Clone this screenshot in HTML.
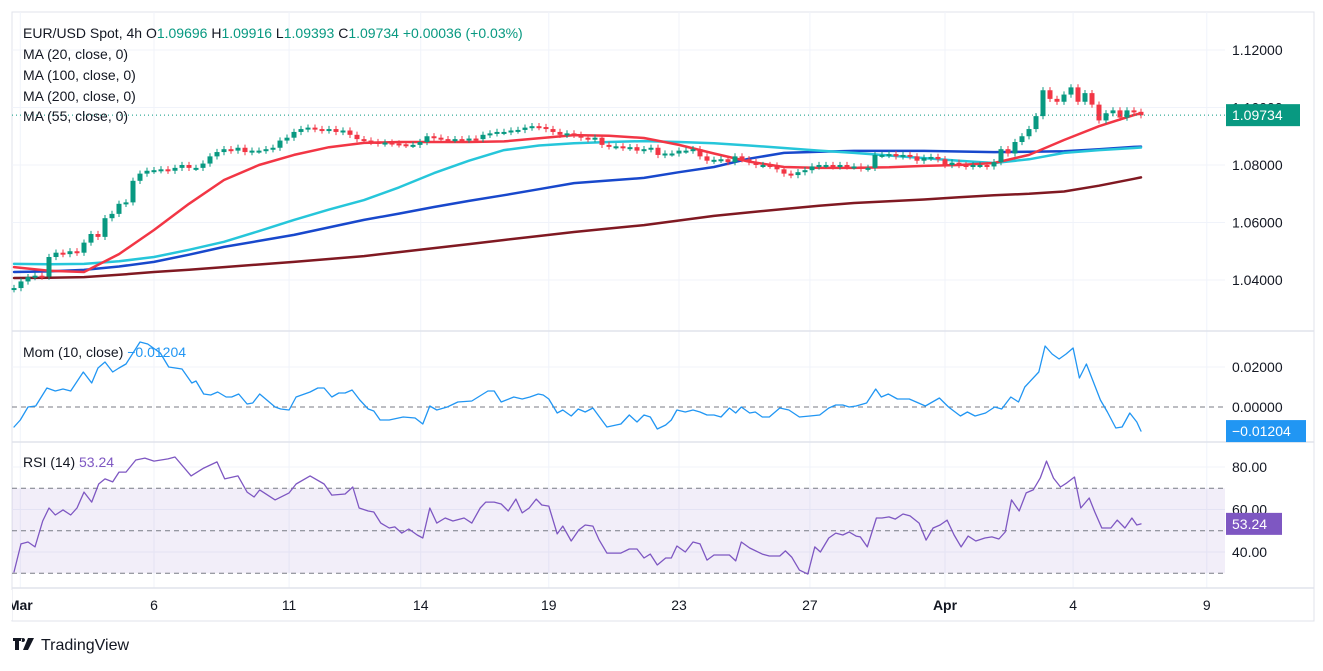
<!DOCTYPE html>
<html><head><meta charset="utf-8">
<style>
html,body{margin:0;padding:0;background:#fff;}
body{width:1323px;height:666px;overflow:hidden;font-family:"Liberation Sans",sans-serif;}
svg text{font-family:"Liberation Sans",sans-serif;}
</style></head>
<body>
<svg id="chart" width="1323" height="666" xmlns="http://www.w3.org/2000/svg"></svg>
<script>
// ---- data ----
const closes = [1.0372,1.0395,1.0410,1.0415,1.0412,1.0480,1.0495,1.0490,1.0500,1.0495,
1.0530,1.0560,1.0550,1.0615,1.0630,1.0665,1.0670,1.0745,1.0770,1.0780,
1.0782,1.0785,1.0780,1.0790,1.0800,1.0790,1.0790,1.0805,1.0830,1.0845,
1.0855,1.0850,1.0860,1.0845,1.0850,1.0850,1.0855,1.0860,1.0885,1.0895,
1.0915,1.0925,1.0930,1.0925,1.0920,1.0925,1.0915,1.0920,1.0905,1.0890,
1.0885,1.0880,1.0875,1.0878,1.0875,1.0872,1.0870,1.0870,1.0880,1.0900,
1.0895,1.0890,1.0888,1.0890,1.0888,1.0892,1.0890,1.0905,1.0910,1.0915,
1.0915,1.0920,1.0922,1.0930,1.0935,1.0932,1.0925,1.0915,1.0905,1.0910,
1.0905,1.0895,1.0890,1.0895,1.0870,1.0865,1.0865,1.0860,1.0862,1.0850,
1.0855,1.0860,1.0835,1.0840,1.0840,1.0850,1.0850,1.0855,1.0830,1.0815,
1.0818,1.0820,1.0810,1.0830,1.0820,1.0810,1.0800,1.0800,1.0798,1.0785,
1.0770,1.0765,1.0775,1.0782,1.0795,1.0800,1.0800,1.0795,1.0800,1.0795,
1.0795,1.0788,1.0790,1.0835,1.0835,1.0838,1.0830,1.0835,1.0830,1.0815,
1.0825,1.0828,1.0820,1.0800,1.0808,1.0800,1.0795,1.0800,1.0800,1.0795,
1.0810,1.0855,1.0840,1.0880,1.0900,1.0925,1.0970,1.1060,1.1030,1.1020,
1.1045,1.1070,1.1020,1.1050,1.1010,1.0955,1.0980,1.0990,1.0965,1.0990,
1.0985,1.0973];
const firstOpen = 1.0368;
const wickSize = 0.0011;
const maBars = [0,5,10,15,20,25,30,35,40,45,50,55,60,65,70,75,80,85,90,95,100,105,110,115,120,125,130,135,140,145,150,155,160,161];
const ma20  = [1.0445,1.0432,1.0428,1.0490,1.0574,1.0665,1.0748,1.0800,1.0835,1.0862,1.0877,1.0880,1.0880,1.0880,1.0882,1.0893,1.0904,1.0902,1.0894,1.0870,1.0840,1.0812,1.0793,1.0790,1.0790,1.0792,1.0797,1.0800,1.0807,1.0835,1.0887,1.0935,1.0974,1.0980];
const ma55  = [1.0456,1.0455,1.0456,1.0465,1.0480,1.0505,1.0533,1.0570,1.0609,1.0645,1.0678,1.0722,1.0772,1.0815,1.0852,1.0868,1.0876,1.0880,1.0883,1.0880,1.0876,1.0868,1.0859,1.0850,1.0842,1.0833,1.0824,1.0815,1.0807,1.0820,1.0842,1.0852,1.0859,1.0861];
const ma100 = [1.0428,1.0430,1.0435,1.0447,1.0463,1.0488,1.0515,1.0536,1.0557,1.0583,1.0609,1.0631,1.0654,1.0675,1.0695,1.0716,1.0737,1.0746,1.0755,1.0775,1.0793,1.0822,1.0842,1.0846,1.0849,1.0849,1.0849,1.0847,1.0845,1.0846,1.0848,1.0855,1.0863,1.0864];
const ma200 = [1.0407,1.0408,1.0410,1.0418,1.0428,1.0436,1.0445,1.0454,1.0463,1.0473,1.0483,1.0497,1.0511,1.0525,1.0539,1.0553,1.0567,1.0579,1.0591,1.0607,1.0623,1.0635,1.0647,1.0658,1.0668,1.0674,1.0680,1.0688,1.0695,1.0700,1.0708,1.0728,1.0752,1.0757];
const momBars = [0,0.9,2,3.1,4.7,5.9,7,8.1,9.9,11.1,12,13,14.1,15,16,18,19.1,20.9,22.1,24,25.4,26,27.1,28.1,29.1,30.3,31.1,32.1,33.3,34.1,35.1,37.3,38.1,39.3,40.3,42.3,43.4,44.3,45.4,46.4,47.3,48.3,49.4,50.6,51.4,52.3,53.6,55.6,57.3,58.4,59.4,60.4,61.9,63.4,65.4,67.7,68.6,69.6,71.4,72.6,73.7,74.9,75.6,76.4,77.6,78.4,79.6,80.6,81.6,82.7,84.7,86.7,87.9,89,90,90.9,91.9,93.1,93.9,94.7,95.9,97,98,99,100,101,102.2,103.1,103.9,105.1,105.9,106.9,107.9,109.4,110.7,112.2,113.7,115.1,116.4,117.4,118.4,119.3,120.3,121.8,123.1,123.9,124.9,126.2,127.9,130.2,132.2,133.5,135.2,136.2,137.3,138.8,140.1,141.1,142.4,143.5,144.4,146.4,147.3,148.3,149.3,150.3,151.3,152.2,153.2,155.2,156.2,157.4,158.3,159.4,160.4,161];
const momVals = [-0.010,-0.0065,0,0.0005,0.0095,0.008,0.009,0.008,0.0175,0.012,0.0195,0.0225,0.0175,0.0195,0.0215,0.0325,0.0315,0.027,0.020,0.019,0.012,0.013,0.0065,0.006,0.0075,0.005,0.005,0.0065,0.0015,0.002,0.0065,0,-0.001,-0.0015,0.005,0.0075,0.0095,0.0095,0.005,0.007,0.007,0.0085,0.0035,-0.001,-0.002,-0.0065,-0.0065,-0.005,-0.0055,-0.0085,0.0005,-0.0015,0,0.0025,0.003,0.008,0.008,0.0025,0.005,0.004,0.005,0.0065,0.006,0.004,-0.003,-0.0015,-0.0045,-0.001,-0.0025,-0.0005,-0.010,-0.0085,-0.004,-0.0075,-0.004,-0.005,-0.011,-0.009,-0.0065,-0.0015,-0.0025,-0.0015,-0.0025,-0.004,-0.004,-0.005,-0.0005,-0.003,0,-0.003,-0.0025,-0.005,-0.005,-0.0005,-0.0015,-0.005,-0.0045,-0.004,-0.0005,0.001,0.001,0,0.0005,0.002,0.009,0.005,0.0065,0.004,0.004,0.0005,0.0045,0,-0.0045,-0.0025,-0.0045,-0.003,0,-0.001,0.005,0.0025,0.010,0.0175,0.0305,0.0265,0.024,0.0265,0.0295,0.0145,0.0215,0.0035,-0.0025,-0.0105,-0.010,-0.003,-0.0075,-0.01204];
const rsiBars = [0,1,2,3,4.1,5,5.9,7,8.1,9,10,11.1,12.1,13,14.1,15,16,17.4,18.7,20,22,23,25.3,27.1,29,30.1,32,33.3,34.3,35.1,37.3,39.3,40.3,42.3,44.3,45.4,47.3,48.4,49.3,50.6,51.4,52.4,53.6,54.4,55.4,56.4,57.6,58.4,59.4,60.4,61.6,62.7,64.3,65.4,66.6,67.4,68.6,69.6,70.6,71.7,72.6,73.6,74.6,75.4,76.4,77.6,78.4,79.6,80.7,81.6,82.7,83.6,84.7,85.9,86.7,87.9,89,90,90.9,91.9,93.1,93.9,94.7,95.9,97,98,99,100,101,102.2,103.1,103.9,105.1,106.9,107.9,109.4,110.2,111.1,112.2,113.4,114.4,115.2,116.4,117.4,118.4,119.3,120.3,120.9,121.9,123.2,124,125,125.9,127,128,129.3,130.3,131.3,132.3,133.3,134.3,135.3,136.3,137.4,138.7,139.7,140.7,141.6,142.5,143.6,144.6,145.6,146.6,147.5,148.5,149.5,150.4,151.5,152.4,153.6,154.4,155.4,156.7,157.6,158.7,159.7,160.4,161];
const rsiVals = [30.6,43.8,44.7,42.4,54.6,60.7,57.4,59.8,57.4,60.7,68.2,63.5,72,74.4,73,77.6,77.6,83.3,84.2,82.8,83.8,84.7,75.8,79.5,82.4,74.4,75.8,68.2,65.9,69.2,64.5,67.8,72,75.8,72,66.8,67.3,70.6,60.7,59.3,58.8,53.6,51.3,51.8,48.9,50.8,48,46.6,60.7,53.6,56,54.6,56,53.6,60.7,63.5,63.5,62.6,59.3,64.9,58.4,60.7,64.9,62.1,61.6,48.5,52.2,45.2,50.4,52.7,52.2,45.6,39.5,39.5,39.5,41.4,41.4,37.2,39,33.9,37.2,37.2,42.8,40,44.7,43.8,36.2,38.6,38.6,38.6,35.8,44.7,41.9,39,38.1,38.1,40.5,37.6,31.5,29.6,42.4,40,46.6,48.9,48,49.4,47.5,47.1,42.4,56,56,56.5,55.5,57.9,57,53.6,45.6,51.3,52.7,55,48,42.4,47.5,45.2,46.6,47.1,46.1,49.4,64.5,59.3,67.8,69.2,74.8,82.8,74.8,70.6,72.5,75.3,60.7,65.4,58.8,51.3,51.3,55,51.3,56,52.7,53.24];
const priceTicks = [1.12,1.10,1.08,1.06,1.04];
const priceTickLabels = ["1.12000","1.10000","1.08000","1.06000","1.04000"];
const momTicks = [0.02,0];
const momTickLabels = ["0.02000","0.00000"];
const rsiTicks = [80,60,40];
const rsiTickLabels = ["80.00","60.00","40.00"];
const timeTicks = [0.9,20,39.3,58.1,76.4,95,113.7,133,151.3,170.4];
const timeLabels = ["Mar","6","11","14","19","23","27","Apr","4","9"];
const lastPrice = 1.09734, lastMom = -0.01204, lastRsi = 53.24;

// ---- scales ----
const X = t => 14 + t*7;
const Y = p => 50 + (1.12 - p) * 2875;
const YM = v => 407 - v * 2000;
const YR = v => 467 + (80 - v) * 2.125;
const PLOT_R = 1225;

const svg = document.getElementById('chart');
const NS = 'http://www.w3.org/2000/svg';
function mk(tag, attrs, parent){ const e=document.createElementNS(NS,tag); for(const k in attrs) e.setAttribute(k,attrs[k]); (parent||svg).appendChild(e); return e; }
function txt(s, attrs){ const e=mk('text',attrs); e.textContent=s; return e; }

let e = mk('rect',{x:12,y:12,width:1302,height:609,fill:'none',stroke:'#e0e3eb','stroke-width':1});
 
timeTicks.forEach((t,i)=>{ const g=mk('line',{x1:X(t),x2:X(t),y1:12,y2:588,stroke:'#f0f3fa'});
   });
priceTicks.forEach(p=>{ const g=mk('line',{x1:12,x2:PLOT_R,y1:Y(p),y2:Y(p),stroke:'#f0f3fa'});
   });
momTicks.forEach(p=>{ if(p!==0){ const g=mk('line',{x1:12,x2:PLOT_R,y1:YM(p),y2:YM(p),stroke:'#f0f3fa'});
   }});
rsiTicks.forEach(p=>{ const g=mk('line',{x1:12,x2:PLOT_R,y1:YR(p),y2:YR(p),stroke:'#f0f3fa'});
   });
[331,442,588].forEach(y=>{ const s=mk('line',{x1:12,x2:1314,y1:y,y2:y,stroke:'#e0e3eb','stroke-width':1.5});
   });

e = mk('rect',{x:12,y:YR(70),width:PLOT_R-12,height:YR(30)-YR(70),fill:'rgba(126,87,194,0.1)'});
 
[70,50,30].forEach(v=>{ const l=mk('line',{x1:12,x2:PLOT_R,y1:YR(v),y2:YR(v),stroke:'#787b86','stroke-dasharray':'5,4'});
   });
e = mk('line',{x1:12,x2:PLOT_R,y1:YM(0),y2:YM(0),stroke:'#787b86','stroke-dasharray':'5,4'});
 

function line(bars, vals, sc, color, w, name){
 const d = vals.map((v,i)=>(i?'L':'M')+X(bars[i]).toFixed(1)+','+sc(v).toFixed(1)).join(' ');
 const p = mk('path',{d:d,fill:'none',stroke:color,'stroke-width':w,'stroke-linejoin':'round','stroke-linecap':'round'});
 
 
}
line(maBars, ma200, Y, '#801922', 2.5, 'ma200-line');
line(maBars, ma100, Y, '#1848cc', 2.5, 'ma100-line');
line(maBars, ma55, Y, '#26c6da', 2.5, 'ma55-line');
line(maBars, ma20, Y, '#f23645', 2.5, 'ma20-line');

closes.forEach((c,i)=>{
 const o = i ? closes[i-1] : firstOpen;
 const up = c >= o; const col = up ? '#089981' : '#f23645';
 const hi = Math.max(o,c)+wickSize, lo = Math.min(o,c)-wickSize;
 const g = mk('g',{});
 
 
 mk('line',{x1:X(i),x2:X(i),y1:Y(hi),y2:Y(lo),stroke:col,'stroke-width':1},g);
 const top = Y(Math.max(o,c)), h = Math.max(2, Y(Math.min(o,c))-top);
 mk('rect',{x:X(i)-2.5,y:top,width:5,height:h,fill:col},g);
});
e = mk('line',{x1:12,x2:PLOT_R,y1:Y(lastPrice),y2:Y(lastPrice),stroke:'#089981','stroke-dasharray':'1,3'});
 

line(momBars, momVals, YM, '#2196f3', 1.3, 'momentum-line');
line(rsiBars, rsiVals, YR, '#7e57c2', 1.3, 'rsi-line');

function axisLabels(ticks, labels, sc, name){
 ticks.forEach((t,i)=>{ const l=txt(labels[i],{x:1232,y:sc(t)+5,'font-size':14,fill:'#131722'});
    });
}
axisLabels(priceTicks, priceTickLabels, Y, 'price-tick-label');
axisLabels(momTicks, momTickLabels, YM, 'mom-tick-label');
axisLabels(rsiTicks, rsiTickLabels, YR, 'rsi-tick-label');
timeTicks.forEach((t,i)=>{ const l=txt(timeLabels[i],{x:X(t),y:610,'font-size':14,fill:'#131722','text-anchor':'middle','font-weight':(timeLabels[i]==='Mar'||timeLabels[i]==='Apr')?'bold':'normal'});
   });
e = mk('rect',{x:0,y:590,width:12,height:30,fill:'#fff'});
 

function badge(label, y, w, color, name){
 const g = mk('g',{});
 
 
 mk('rect',{x:1226,y:y-11,width:w,height:22,fill:color},g);
 const t = mk('text',{x:1232,y:y+5,'font-size':14,fill:'#fff'},g); t.textContent = label;
}
badge('1.09734', Y(lastPrice), 74, '#089981', 'last-price-badge');
badge('\u22120.01204', YM(lastMom), 80, '#2196f3', 'mom-value-badge');
badge('53.24', YR(lastRsi), 56, '#7e57c2', 'rsi-value-badge');

function legend(parts, y, name){
 const t = mk('text',{x:23,y:y,'font-size':14,fill:'#131722'});
  
 parts.forEach(p=>{ const s=mk('tspan',{fill:p[1]},t); s.textContent=p[0]; });
}
legend([['EUR/USD Spot, 4h  O','#131722'],['1.09696','#089981'],['  H','#131722'],['1.09916','#089981'],['  L','#131722'],['1.09393','#089981'],['  C','#131722'],['1.09734','#089981'],['  +0.00036 (+0.03%)','#089981']], 38, 'symbol-legend');
legend([['MA (20, close, 0)','#131722']], 59, 'ma20-legend');
legend([['MA (100, close, 0)','#131722']], 80, 'ma100-legend');
legend([['MA (200, close, 0)','#131722']], 101, 'ma200-legend');
legend([['MA (55, close, 0)','#131722']], 121, 'ma55-legend');
legend([['Mom (10, close)  ','#131722'],['\u22120.01204','#2196f3']], 357, 'mom-legend');
legend([['RSI (14)  ','#131722'],['53.24','#7e57c2']], 467, 'rsi-legend');

const lg = mk('g',{});


mk('path',{d:'M13 638h9v3h-3v9h-4v-9h-2z M23 638a2 2 0 1 0 0.01 0z M28 638h6l-6 12h-5z',fill:'#131722'},lg);
const lt = mk('text',{x:41,y:650,'font-size':16,fill:'#131722'},lg); lt.textContent='TradingView';
</script>
</body></html>
